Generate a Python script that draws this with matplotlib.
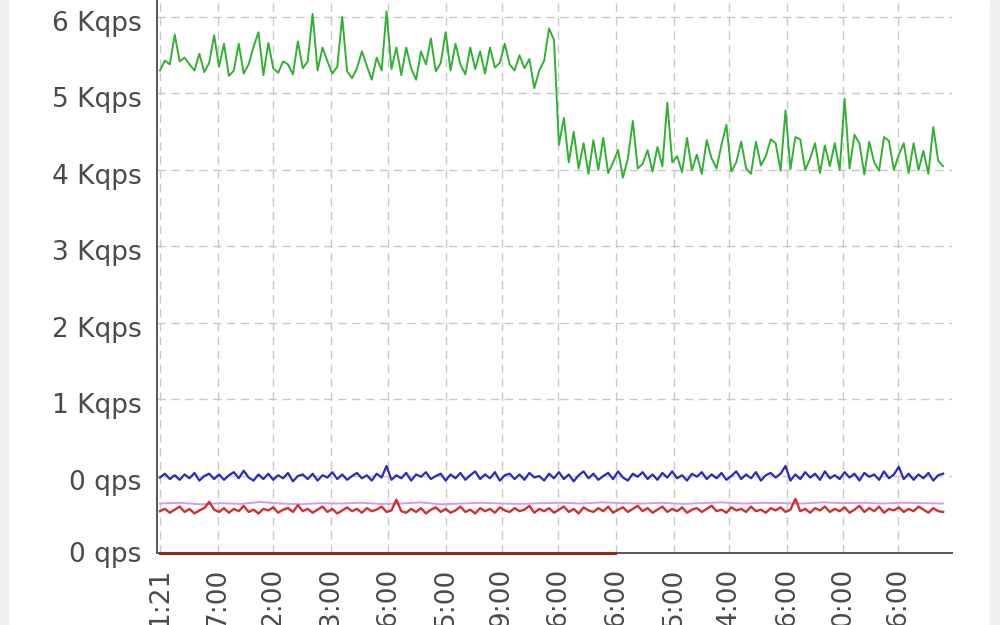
import numpy as np
import matplotlib.pyplot as plt
from matplotlib.patches import Rectangle
from matplotlib.transforms import ScaledTranslation

# qps series, one point per sample
green = [5300, 5430, 5380, 5770, 5420, 5470, 5380, 5300, 5520, 5280,
         5400, 5760, 5350, 5650, 5230, 5300, 5650, 5260, 5380, 5610,
         5800, 5240, 5660, 5330, 5270, 5420, 5380, 5250, 5680, 5330,
         5420, 6040, 5300, 5600, 5420, 5260, 5350, 6000, 5290, 5200,
         5330, 5550, 5360, 5180, 5470, 5300, 6070, 5320, 5600, 5240,
         5600, 5330, 5180, 5550, 5380, 5720, 5290, 5400, 5800, 5300,
         5650, 5380, 5250, 5600, 5320, 5550, 5260, 5600, 5340, 5400,
         5650, 5380, 5300, 5500, 5330, 5450, 5070, 5300, 5430, 5850,
         5700,
         4330, 4680, 4100, 4500, 4020, 4350, 3950, 4390, 4000, 4420,
         3960, 4100, 4260, 3900, 4150, 4640, 4020, 4080, 4260, 3980,
         4300, 4050, 4880, 4100, 4180, 3970, 4420, 4000, 4200, 3950,
         4390, 4150, 4020, 4330, 4590, 3980, 4100, 4370, 4020, 3950,
         4370, 4060, 4180, 4400, 4350, 3990, 4780, 4010, 4430, 4400,
         4000, 4150, 4350, 3960, 4320, 4050, 4350, 4000, 4930, 4020,
         4460, 4350, 3940, 4370, 4100, 3990, 4430, 4380, 4000, 4200,
         4350, 3960, 4350, 4000, 4250, 3950, 4560, 4120, 4050]

blue = [-20, 30, -40, 10, -50, 20, -30, 40, -60, 0,
        30, -40, 20, -50, 10, 50, -30, 70, -20, -60,
        20, -40, 30, -50, 10, -30, 40, -70, 0, 20,
        -40, 30, -60, 10, -20, 50, -40, 20, -50, 0,
        40, -30, 10, -60, 30, -20, 130, -50, 10, -30,
        40, -60, 20, -10, 50, -40, 0, 30, -60, 20,
        -30, 40, -50, 10, 60, -40, 20, -30, 50, -60,
        10, 30, -40, 20, -50, 40, -20, 0, -60, 30,
        -30, 50, -40, 20, -70, 10, 60, -30, 30, -50,
        0, 40, -40, 60, -20, -60, 30, -10, 50, -40,
        20, -50, 40, -20, 60, -30, 10, -60, 30, -10,
        50, -40, 20, -30, 40, -50, 0, 60, -40, 20,
        -30, 50, -60, 10, 40, -20, 30, 130, -60, 20,
        -40, 50, -20, 30, -50, 60, -30, 10, -40, 50,
        -20, 30, -60, 40, -10, 20, -50, 60, -30, 20,
        120, -40, 30, -50, 20, -30, 40, -60, 10, 30]

red = [-460, -430, -480, -440, -400, -470, -430, -490, -450, -420,
       -340, -440, -470, -420, -480, -430, -460, -390, -470, -440,
       -490, -430, -450, -410, -480, -440, -420, -470, -380, -460,
       -430, -480, -440, -400, -470, -430, -490, -450, -410, -460,
       -430, -480, -420, -460, -440, -400, -470, -450, -310, -460,
       -480, -430, -470, -420, -490, -440, -410, -470, -430, -480,
       -450, -400, -470, -440, -490, -420, -460, -430, -480, -410,
       -450, -470, -420, -460, -440, -390, -480, -430, -460, -420,
       -480, -440, -400, -470, -430, -490, -410, -450, -470, -420,
       -460, -400, -480, -440, -410, -470, -430, -390, -460, -420,
       -480, -440, -400, -470, -430, -460, -410, -480, -440, -420,
       -470, -430, -390, -460, -440, -480, -410, -450, -430, -470,
       -400, -460, -440, -480, -420, -450, -410, -470, -440, -300,
       -460, -430, -480, -420, -450, -400, -470, -430, -460, -410,
       -480, -440, -390, -470, -420, -460, -400, -480, -430, -450,
       -410, -470, -430, -460, -400, -440, -480, -420, -460, -470]

pink = [-360, -350, -370, -355, -365, -340, -360, -370, -355, -360,
        -350, -365, -360, -345, -370, -360, -350, -360, -365, -355,
        -350, -360, -345, -355, -360, -350, -365, -355, -345, -360,
        -350, -355, -360, -345, -355, -350, -360, -350, -355, -360]

# dark red series sitting on the floor until mid-chart
floor_t = [0, 92.4]
floor_v = [-1000, -1000]

xtick_pos = [0, 11.8, 22.9, 34.7, 46.3, 58.1, 69.4, 80.8, 92.6, 104.4,
             115.5, 127.3, 138.7, 149.8]
xtick_lab = ['1:21', '7:00', '2:00', '3:00', '6:00', '5:00', '9:00', '6:00',
             '6:00', '5:00', '4:00', '6:00', '0:00', '6:00']
ytick_pos = [-1000, 0, 1000, 2000, 3000, 4000, 5000, 6000]
ytick_lab = ['0 qps', '0 qps', '1 Kqps', '2 Kqps', '3 Kqps', '4 Kqps',
             '5 Kqps', '6 Kqps']

t = np.arange(len(green))
t_pink = np.linspace(0, len(green) - 1, len(pink))

fig = plt.figure(figsize=(10, 6.25), dpi=100)
fig.patches.append(Rectangle((0, 0), 0.008, 1, transform=fig.transFigure,
                             color='#eff0f2', zorder=0))
fig.patches.append(Rectangle((0.99, 0), 0.01, 1, transform=fig.transFigure,
                             color='#eff0f2', zorder=0))
ax = fig.add_axes([0.157, 0.116, 0.795, 0.884])

ax.plot(t, green, color='#31b131', lw=1.4, zorder=3)
ax.plot(t_pink, pink, color='#d79be0', lw=1.4, zorder=2)
ax.plot(t, red, color='#cf3030', lw=1.7, zorder=3)
ax.plot(t, blue, color='#2a2ac0', lw=1.6, zorder=3)
ax.plot(floor_t, floor_v, color='#8e2a18', lw=2.2, zorder=4, clip_on=False)

ax.set_xlim(-0.6, 160.8)
ax.set_ylim(-1000, 6222)
ax.set_xticks(xtick_pos)
ax.set_xticklabels(xtick_lab, rotation=90, va='top', ha='center')
ax.set_yticks(ytick_pos)
ax.set_yticklabels(ytick_lab)
ax.tick_params(axis='both', length=0, colors='#4a4a4a', labelsize=19)
ax.tick_params(axis='y', pad=11)
ax.tick_params(axis='x', pad=11)

# y labels sit a few pixels below their grid lines in the original
shift = ScaledTranslation(0, -4 / 100, fig.dpi_scale_trans)
for lab in ax.get_yticklabels()[1:]:
    lab.set_transform(lab.get_transform() + shift)

ax.grid(True, color='#c8c8c8', linestyle=(0, (6, 4)), lw=1)
ax.set_axisbelow(True)
for s in ['top', 'right']:
    ax.spines[s].set_visible(False)
ax.spines['left'].set_color('#555555')
ax.spines['left'].set_linewidth(1.4)
ax.spines['bottom'].set_color('#555555')
ax.spines['bottom'].set_linewidth(1.4)

fig.savefig('out.png', dpi=100)
